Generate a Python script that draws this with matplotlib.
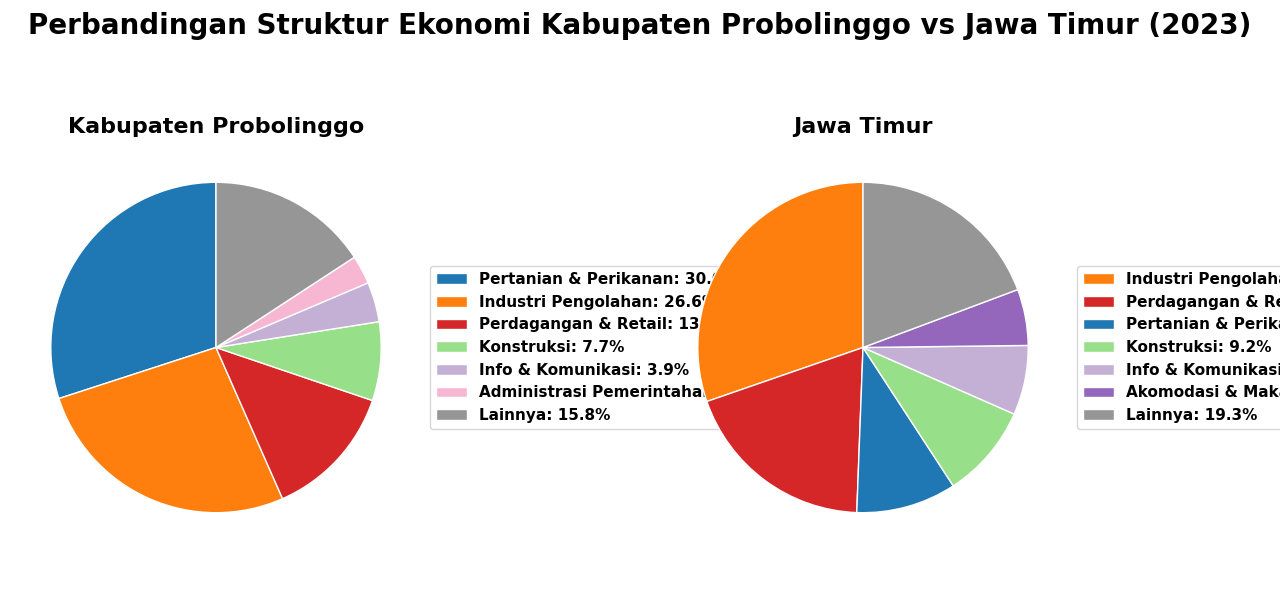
import matplotlib
matplotlib.use("Agg")
import matplotlib.pyplot as plt

title = "Perbandingan Struktur Ekonomi Kabupaten Probolinggo vs Jawa Timur (2023)"

prob_title = "Kabupaten Probolinggo"
prob_sectors = ["Pertanian & Perikanan", "Industri Pengolahan", "Perdagangan & Retail",
                "Konstruksi", "Info & Komunikasi", "Administrasi Pemerintahan", "Lainnya"]
prob_values = [30.0, 26.6, 13.2, 7.7, 3.9, 2.8, 15.8]
prob_colors = ["#1f77b4", "#ff7f0e", "#d62728", "#98df8a", "#c5b0d5", "#f7b6d2", "#969696"]

jatim_title = "Jawa Timur"
jatim_sectors = ["Industri Pengolahan", "Perdagangan & Retail", "Pertanian & Perikanan",
                 "Konstruksi", "Info & Komunikasi", "Akomodasi & Makan Minum", "Lainnya"]
jatim_values = [30.3, 19.1, 9.8, 9.2, 6.8, 5.5, 19.3]
jatim_colors = ["#ff7f0e", "#d62728", "#1f77b4", "#98df8a", "#c5b0d5", "#9467bd", "#969696"]

fig = plt.figure(figsize=(12.8, 6.12), dpi=100)
W, H = 1280, 612
size = 413

def draw(cx, cy, sectors, values, colors, ttl):
    ax = fig.add_axes([(cx - size / 2) / W, (H - cy - size / 2) / H, size / W, size / H])
    wedges, _ = ax.pie(values, colors=colors, startangle=90, counterclock=True,
                       wedgeprops=dict(edgecolor="white", linewidth=1))
    ax.set_aspect("equal")
    ax.set_title(ttl, fontsize=16, fontweight="bold", pad=6)
    labels = [f"{s}: {v:.1f}%" for s, v in zip(sectors, values)]
    ax.legend(wedges, labels, loc="center left", bbox_to_anchor=(1, 0.5),
              prop=dict(size=11, weight="bold"))
    return ax

draw(216, 347.5, prob_sectors, prob_values, prob_colors, prob_title)
draw(863, 347.5, jatim_sectors, jatim_values, jatim_colors, jatim_title)

fig.suptitle(title, fontsize=20, fontweight="bold", y=0.98)

fig.savefig("out.png", dpi=100)
